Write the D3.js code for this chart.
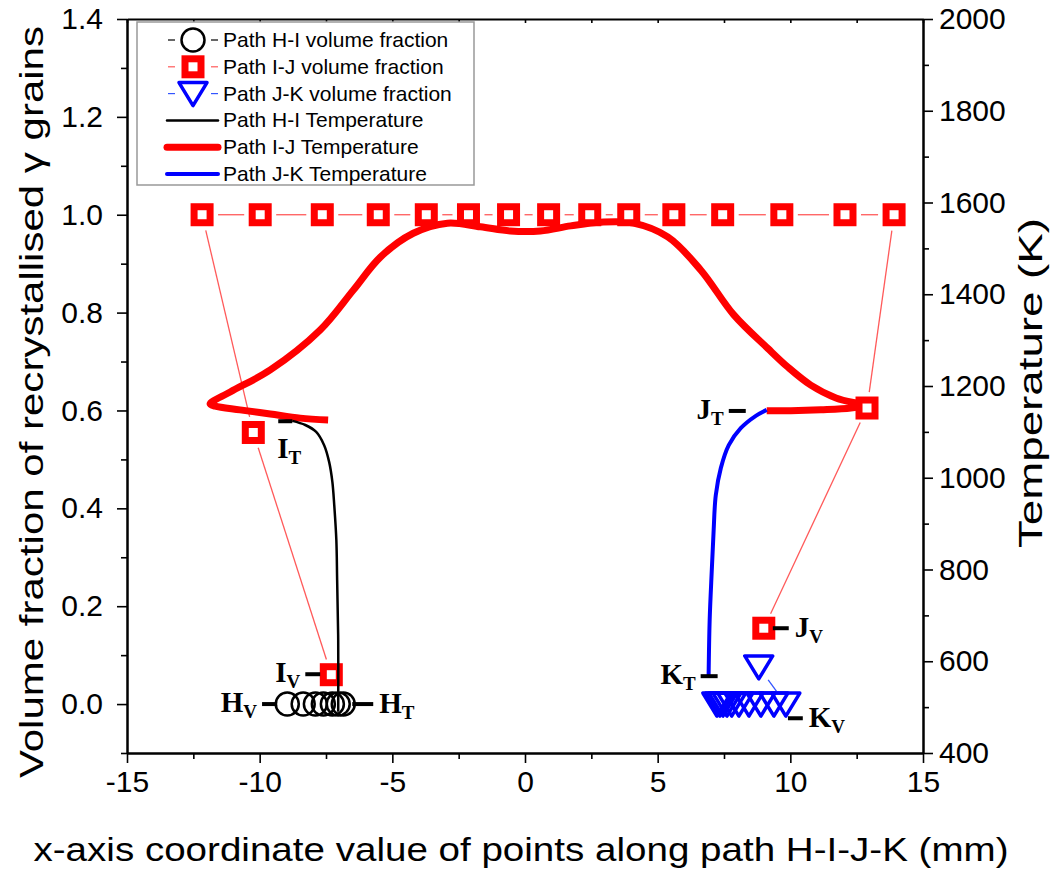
<!DOCTYPE html>
<html>
<head>
<meta charset="utf-8">
<script src="https://d3js.org/d3.v7.min.js"></script>
<style>
  body { margin: 0; background: #fff; }
  text { font-family: "Liberation Sans", Arial, sans-serif; fill: #000; }
</style>
</head>
<body>
<script>
// ---- data ----
var xTicks = [-15, -10, -5, 0, 5, 10, 15];
var xMinor = [-12.5, -7.5, -2.5, 2.5, 7.5, 12.5];
var volTicks = [0.0, 0.2, 0.4, 0.6, 0.8, 1.0, 1.2, 1.4];
var volMinor = [-0.1, 0.1, 0.3, 0.5, 0.7, 0.9, 1.1, 1.3];
var tempTicks = [400, 600, 800, 1000, 1200, 1400, 1600, 1800, 2000];
var tempMinor = [500, 700, 900, 1100, 1300, 1500, 1700, 1900];

// volume fraction, path H-I (circles)
var hiVolX = [-8.96, -8.36, -7.90, -7.60, -7.26, -7.04, -6.85];
var hiVolY = [0, 0, 0, 0, 0, 0, 0];

// volume fraction, path I-J (squares)
var ijVolX = [-7.30, -10.24, -12.17, -9.98, -7.64, -5.53, -3.72, -2.13, -0.62, 0.89,
              2.44, 3.91, 5.61, 7.45, 9.68, 12.06, 13.91, 12.89, 9.00];
var ijVolY = [0.06, 0.555, 1, 1, 1, 1, 1, 1, 1, 1,
              1, 1, 1, 1, 1, 1, 1, 0.605, 0.155];

// volume fraction, path J-K (triangles)
var jkVolX = [8.81, 9.83, 9.38, 8.89, 8.44, 8.06, 7.79, 7.61, 7.46, 7.34, 7.23];
var jkVolY = [0.076, 0, 0, 0, 0, 0, 0, 0, 0, 0, 0];

// temperature, path H-I
var hiTempX = [-8.77, -8.28, -7.87, -7.57, -7.38, -7.26, -7.19, -7.11, -7.08, -7.04, -7.04];
var hiTempT = [1124, 1115, 1100, 1071, 1034, 991, 941, 864, 777, 646, 490];

// temperature, path I-J
var ijTempX = [-7.42, -8.47, -9.60, -10.74, -11.68, -11.87, -11.11, -9.60, -7.72, -6.47,
               -5.45, -4.21, -2.92, -1.68, -0.55, 0.58, 1.72, 2.85, 4.09, 5.38,
               6.62, 7.87, 9.15, 9.91, 10.77, 11.72, 12.47, 12.89, 12.28, 11.15,
               10.02, 9.11];
var ijTempT = [1126, 1130, 1139, 1148, 1156, 1161, 1187, 1235, 1322, 1409,
               1481, 1533, 1555, 1547, 1538, 1538, 1549, 1557, 1555, 1525,
               1453, 1355, 1282, 1241, 1202, 1174, 1163, 1159, 1152, 1148,
               1146, 1146];

// temperature, path J-K
var jkTempX = [9.11, 8.70, 8.13, 7.68, 7.38, 7.19, 7.11, 7.04, 6.96, 6.92];
var jkTempT = [1148, 1135, 1108, 1071, 1021, 962, 886, 799, 690, 568];

var legendNames = ["Path H-I volume fraction", "Path I-J volume fraction", "Path J-K volume fraction",
                   "Path H-I Temperature", "Path I-J Temperature", "Path J-K Temperature"];

// point labels: letter, subscript, tick from x1 to x2 at volume fraction v, side of the text
var pointLabels = [
  {t: "I", s: "T", x1: -9.30, x2: -8.77, v: 0.578, side: "below"},
  {t: "I", s: "V", x1: -8.28, x2: -7.72, v: 0.061, side: "left"},
  {t: "H", s: "V", x1: -9.91, x2: -9.34, v: 0.0, side: "left"},
  {t: "H", s: "T", x1: -6.51, x2: -5.72, v: 0.0, side: "right"},
  {t: "J", s: "T", x1: 7.68, x2: 8.32, v: 0.599, side: "left"},
  {t: "J", s: "V", x1: 9.34, x2: 9.94, v: 0.155, side: "right"},
  {t: "K", s: "T", x1: 6.62, x2: 7.26, v: 0.057, side: "left"},
  {t: "K", s: "V", x1: 9.91, x2: 10.47, v: -0.029, side: "right"}
];

// ---- chart ----
var svg = d3.select("body").append("svg").attr("width", 1056).attr("height", 871);

var x = d3.scaleLinear().domain([-15, 15]).range([127, 923]);
var yL = d3.scaleLinear().domain([-0.1, 1.4]).range([753, 19]);
var yR = d3.scaleLinear().domain([400, 2000]).range([753, 19]);

function zip(xs, ys) { return xs.map(function(d, i) { return [d, ys[i]]; }); }

// lines between markers, with a gap left around each marker
function gappedLines(g, pts, ys, gap, color, width) {
  var p = pts.map(function(d) { return [x(d[0]), ys(d[1])]; });
  for (var i = 0; i < p.length - 1; i++) {
    var dx = p[i+1][0] - p[i][0], dy = p[i+1][1] - p[i][1];
    var len = Math.sqrt(dx*dx + dy*dy);
    if (len <= 2 * gap) continue;
    var ux = dx / len, uy = dy / len;
    g.append("line")
      .attr("x1", p[i][0] + ux*gap).attr("y1", p[i][1] + uy*gap)
      .attr("x2", p[i+1][0] - ux*gap).attr("y2", p[i+1][1] - uy*gap)
      .attr("stroke", color).attr("stroke-width", width);
  }
}

function marker(g, type, cx, cy) {
  if (type == "circle") {
    g.append("circle").attr("cx", cx).attr("cy", cy).attr("r", 11.5)
      .attr("fill", "none").attr("stroke", "#000").attr("stroke-width", 2.5);
  } else if (type == "square") {
    g.append("rect").attr("x", cx - 8).attr("y", cy - 8).attr("width", 16).attr("height", 16)
      .attr("fill", "#fff").attr("stroke", "#ff0000").attr("stroke-width", 7);
  } else {
    g.append("path")
      .attr("d", "M" + (cx-14) + "," + (cy-11) + "L" + (cx+14) + "," + (cy-11) + "L" + cx + "," + (cy+12) + "Z")
      .attr("fill", "none").attr("stroke", "#0000ff").attr("stroke-width", 3.5)
      .attr("stroke-linejoin", "round");
  }
}

// axes
function styleAxis(g) {
  g.select(".domain").attr("stroke-width", 2);
  g.selectAll(".tick line").attr("stroke-width", 1.6);
  g.selectAll("text").style("font-size", "30px").attr("fill", "#000");
}

svg.append("g").attr("transform", "translate(0,753)")
  .call(d3.axisBottom(x).tickValues(xMinor).tickSize(6).tickSizeOuter(0).tickFormat(""))
  .call(styleAxis);
svg.append("g").attr("transform", "translate(0,753)")
  .call(d3.axisBottom(x).tickValues(xTicks).tickSize(10).tickSizeOuter(0).tickPadding(8)
        .tickFormat(function(d) { return String(d); }))
  .call(styleAxis);

svg.append("g").attr("transform", "translate(127,0)")
  .call(d3.axisLeft(yL).tickValues(volMinor).tickSize(6).tickSizeOuter(0).tickFormat(""))
  .call(styleAxis);
svg.append("g").attr("transform", "translate(127,0)")
  .call(d3.axisLeft(yL).tickValues(volTicks).tickSize(10).tickSizeOuter(0).tickPadding(14)
        .tickFormat(d3.format(".1f")))
  .call(styleAxis);

svg.append("g").attr("transform", "translate(923,0)")
  .call(d3.axisRight(yR).tickValues(tempMinor).tickSize(6).tickSizeOuter(0).tickFormat(""))
  .call(styleAxis);
svg.append("g").attr("transform", "translate(923,0)")
  .call(d3.axisRight(yR).tickValues(tempTicks).tickSize(10).tickSizeOuter(0).tickPadding(6)
        .tickFormat(d3.format("d")))
  .call(styleAxis);

// top border with small inner ticks
svg.append("g").attr("transform", "translate(0,19)")
  .call(d3.axisTop(x).tickValues(xTicks.concat(xMinor)).tickSize(-4).tickSizeOuter(0).tickFormat(""))
  .call(styleAxis);

// titles
svg.append("text").attr("x", 521).attr("y", 861).attr("text-anchor", "middle")
  .style("font-size", "34px").attr("textLength", 975).attr("lengthAdjust", "spacingAndGlyphs")
  .text("x-axis coordinate value of points along path H-I-J-K (mm)");
svg.append("text").attr("transform", "translate(43,402) rotate(-90)").attr("text-anchor", "middle")
  .style("font-size", "34px").attr("textLength", 752).attr("lengthAdjust", "spacingAndGlyphs")
  .text("Volume fraction of recrystallised \u03b3 grains");
svg.append("text").attr("transform", "translate(1042,383) rotate(-90)").attr("text-anchor", "middle")
  .style("font-size", "34px").attr("textLength", 330).attr("lengthAdjust", "spacingAndGlyphs")
  .text("Temperature (K)");

// temperature curves
var tempLine = d3.line()
  .x(function(d) { return x(d[0]); })
  .y(function(d) { return yR(d[1]); })
  .curve(d3.curveCatmullRom.alpha(0.5));

var plot = svg.append("g");

// volume fraction connecting lines
gappedLines(plot, zip(hiVolX, hiVolY), yL, 15, "#555", 1);
gappedLines(plot, zip(ijVolX, ijVolY), yL, 16, "#ff5a5a", 1.3);
gappedLines(plot, zip(jkVolX, jkVolY), yL, 16, "#3355ff", 1.3);

plot.append("path").datum(zip(ijTempX, ijTempT)).attr("d", tempLine)
  .attr("fill", "none").attr("stroke", "#ff0000").attr("stroke-width", 7)
  .attr("stroke-linejoin", "round");

zip(ijVolX, ijVolY).forEach(function(d) { marker(plot, "square", x(d[0]), yL(d[1])); });

plot.append("path").datum(zip(hiTempX, hiTempT)).attr("d", tempLine)
  .attr("fill", "none").attr("stroke", "#000").attr("stroke-width", 2.5);
plot.append("path").datum(zip(jkTempX, jkTempT)).attr("d", tempLine)
  .attr("fill", "none").attr("stroke", "#0000ff").attr("stroke-width", 4);

zip(hiVolX, hiVolY).forEach(function(d) { marker(plot, "circle", x(d[0]), yL(d[1])); });
zip(jkVolX, jkVolY).forEach(function(d) { marker(plot, "triangle", x(d[0]), yL(d[1])); });

// point labels
var ann = svg.append("g");
pointLabels.forEach(function(d) {
  var ty = yL(d.v), xa = x(d.x1), xb = x(d.x2);
  ann.append("line").attr("x1", xa).attr("x2", xb).attr("y1", ty).attr("y2", ty)
    .attr("stroke", "#000").attr("stroke-width", 4);
  var tx, ay, anchor;
  if (d.side == "left") { tx = xa - 5; ay = ty + 8; anchor = "end"; }
  else if (d.side == "right") { tx = xb + 6; ay = ty + 9; anchor = "start"; }
  else { tx = xa - 1; ay = ty + 37; anchor = "start"; }
  var t = ann.append("text").attr("x", tx).attr("y", ay).attr("text-anchor", anchor)
    .style("font-family", "'Liberation Serif', 'Times New Roman', serif")
    .style("font-weight", "bold").style("font-size", "29px");
  t.append("tspan").text(d.t);
  t.append("tspan").attr("dy", 6).style("font-size", "19px").text(d.s);
});

// legend
var lg = svg.append("g");
lg.append("rect").attr("x", 137).attr("y", 22).attr("width", 337).attr("height", 163)
  .attr("fill", "#fff").attr("stroke", "#999").attr("stroke-width", 1.5);
var legendKinds = [
  {m: "circle", c: "#000"}, {m: "square", c: "#ff5a5a"}, {m: "triangle", c: "#3355ff"},
  {l: "#000", w: 2.5}, {l: "#ff0000", w: 7}, {l: "#0000ff", w: 4}
];
legendNames.forEach(function(name, i) {
  var cy = 40 + i * 26.8, k = legendKinds[i];
  if (k.m) {
    lg.append("line").attr("x1", 168).attr("x2", 175).attr("y1", cy).attr("y2", cy)
      .attr("stroke", k.c).attr("stroke-width", 1.2);
    lg.append("line").attr("x1", 211).attr("x2", 218).attr("y1", cy).attr("y2", cy)
      .attr("stroke", k.c).attr("stroke-width", 1.2);
    marker(lg, k.m, 193, cy);
  } else {
    lg.append("line").attr("x1", 167).attr("x2", 218).attr("y1", cy).attr("y2", cy)
      .attr("stroke", k.l).attr("stroke-width", k.w).attr("stroke-linecap", "round");
  }
  lg.append("text").attr("x", 223).attr("y", cy + 7).style("font-size", "21px").text(name);
});
</script>
</body>
</html>
